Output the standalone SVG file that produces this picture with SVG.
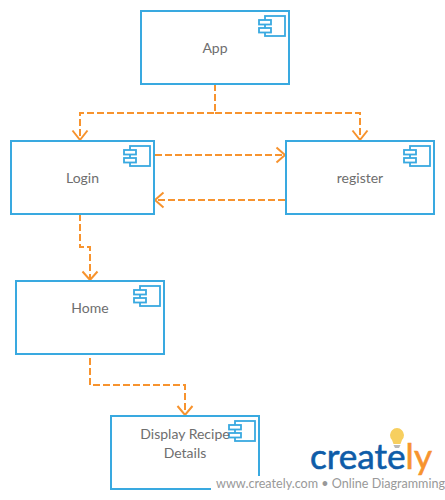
<svg xmlns="http://www.w3.org/2000/svg" width="445" height="500" viewBox="0 0 445 500">
<style>
.box{fill:#fff;stroke:#39a9e0;stroke-width:2}
.ico{fill:#fff;stroke:#39a9e0;stroke-width:1.800}
.lbl{font-family:Lato,"Liberation Sans",sans-serif;font-size:14px;fill:#6e6e6e;text-anchor:middle}
.con{fill:none;stroke:#f7932e;stroke-width:2;stroke-dasharray:7 3}
.head{fill:none;stroke:#f7932e;stroke-width:2}
</style>
<defs>
<g id="icon"><rect class="ico" x="6" y="0" width="20" height="20"/><rect class="ico" x="0" y="4" width="12" height="4.500"/><rect class="ico" x="0" y="12" width="12" height="4.500"/></g>
</defs>
<rect width="445" height="500" fill="#fff"/>
<g id="connectors">
<path class="con" d="M215 84V113H80V140"/>
<path class="con" d="M215 113H360V140"/>
<path class="head" d="M72.500 130.500L80 140L87.500 130.500M352.500 130.500L360 140L367.500 130.500"/>
<path class="con" d="M155 155H285"/>
<path class="head" d="M276.500 147.500L285 155L276.500 162.500"/>
<path class="con" d="M285 200H155"/>
<path class="head" d="M163.500 192.500L155 200L163.500 207.500"/>
<path class="con" d="M80 214V247H90V280"/>
<path class="head" d="M82.500 271.500L90 280L97.500 271.500"/>
<path class="con" d="M90 358V385H185V415"/>
<path class="head" d="M177.500 406L185 415L192.500 406"/>
</g>
<g id="app"><rect class="box" x="141" y="11" width="148" height="73"/><use href="#icon" x="259" y="16"/><text class="lbl" x="215" y="53">App</text></g>
<g id="login"><rect class="box" x="11" y="141" width="143" height="73"/><use href="#icon" x="124" y="146"/><text class="lbl" x="82.500" y="183">Login</text></g>
<g id="register"><rect class="box" x="286" y="141" width="148" height="73"/><use href="#icon" x="404" y="146"/><text class="lbl" x="360" y="183">register</text></g>
<g id="home"><rect class="box" x="16" y="281" width="148" height="73"/><use href="#icon" x="134" y="286"/><text class="lbl" x="90" y="313">Home</text></g>
<g id="display"><rect class="box" x="111" y="416" width="148" height="73"/><use href="#icon" x="229" y="421"/><text class="lbl" x="185" y="439">Display Recipe</text><text class="lbl" x="185" y="458">Details</text></g>
<g id="watermark">
<rect x="211" y="476" width="234" height="24" fill="#fff"/>
<path d="M392 440a7 7 0 1 1 10 0l-1.500 4h-7z" fill="#f7cf5f"/><path d="M393.500 445h7l-1.500 3h-4z" fill="#b9b9b9"/>
<text x="310" y="469" font-family="Lato,'Liberation Sans',sans-serif" font-size="35" fill="#0e5ca8" stroke="#0e5ca8" stroke-width="0.600" textLength="122" lengthAdjust="spacingAndGlyphs">create<tspan fill="#f7932e" stroke="#f7932e">ly</tspan></text>
<text x="216" y="488" font-family="Lato,'Liberation Sans',sans-serif" font-size="12.600" fill="#999">www.creately.com • Online Diagramming</text>
</g>
</svg>
